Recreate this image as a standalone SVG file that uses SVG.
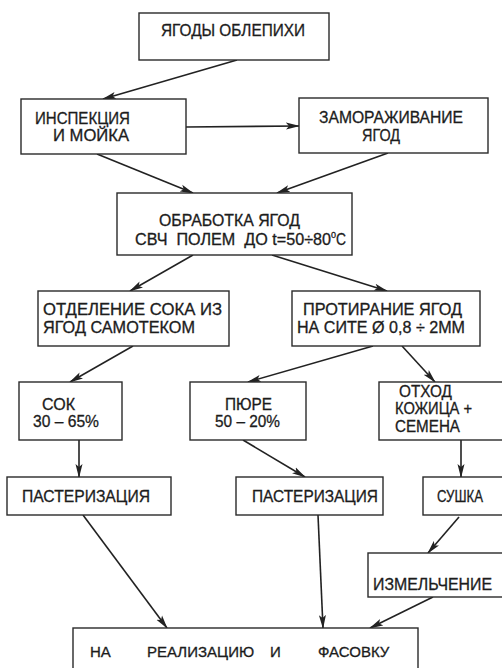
<svg xmlns="http://www.w3.org/2000/svg" width="502" height="668" viewBox="0 0 502 668">
<style>
.box{fill:#fff;stroke:#2a2a2a;stroke-width:1.4}
.t{font-family:"Liberation Sans",Arial,sans-serif;font-size:16px;fill:#1c1c1c;stroke:#1c1c1c;stroke-width:0.3}
.c{stroke:#222;stroke-width:1.6;fill:none;marker-end:url(#ah)}
</style>
<defs>
<marker id="ah" markerUnits="userSpaceOnUse" markerWidth="14" markerHeight="8" refX="13" refY="4" orient="auto">
<path d="M0,0.5 L14,4 L0,7.5 L3,4 z" fill="#222"/>
</marker>
</defs>
<rect width="502" height="668" fill="#fff"/>
<g id="connectors">
<line class="c" x1="237" y1="60" x2="103" y2="99"/>
<line class="c" x1="186" y1="127" x2="299" y2="126"/>
<line class="c" x1="97" y1="154" x2="193" y2="193"/>
<line class="c" x1="388" y1="153" x2="277" y2="193"/>
<line class="c" x1="193" y1="255" x2="130" y2="291"/>
<line class="c" x1="272" y1="255" x2="387" y2="291"/>
<line class="c" x1="133" y1="346" x2="70" y2="382"/>
<line class="c" x1="373" y1="346" x2="248" y2="382"/>
<line class="c" x1="402" y1="346" x2="435" y2="382"/>
<line class="c" x1="79" y1="440" x2="79" y2="477"/>
<line class="c" x1="243" y1="440" x2="305" y2="477"/>
<line class="c" x1="461" y1="440" x2="461" y2="477"/>
<line class="c" x1="83" y1="515" x2="167" y2="628"/>
<line class="c" x1="318" y1="515" x2="323" y2="628"/>
<line class="c" x1="459" y1="517" x2="428" y2="553"/>
<line class="c" x1="433" y1="597" x2="370" y2="628"/>
</g>
<g id="n1">
<rect class="box" x="139" y="13" width="190" height="47"/>
<text class="t" x="161" y="36" textLength="144" lengthAdjust="spacingAndGlyphs">ЯГОДЫ ОБЛЕПИХИ</text>
</g>
<g id="n2">
<rect class="box" x="21" y="99" width="165" height="55"/>
<text class="t" x="35" y="124" textLength="95" lengthAdjust="spacingAndGlyphs">ИНСПЕКЦИЯ</text>
<text class="t" x="53" y="141" textLength="76" lengthAdjust="spacingAndGlyphs">И  МОЙКА</text>
</g>
<g id="n3">
<rect class="box" x="299" y="98" width="189" height="55"/>
<text class="t" x="319" y="123" textLength="144" lengthAdjust="spacingAndGlyphs">ЗАМОРАЖИВАНИЕ</text>
<text class="t" x="362" y="141" textLength="38" lengthAdjust="spacingAndGlyphs">ЯГОД</text>
</g>
<g id="n4">
<rect class="box" x="117" y="193" width="235" height="62"/>
<text class="t" x="159" y="226" textLength="141" lengthAdjust="spacingAndGlyphs">ОБРАБОТКА ЯГОД</text>
<text class="t" x="135" y="245" xml:space="preserve" textLength="196" lengthAdjust="spacingAndGlyphs">СВЧ  ПОЛЕМ  ДО t=50÷80</text>
<text class="t" x="331" y="238" style="font-size:9px">0</text>
<text class="t" x="336" y="245" textLength="10" lengthAdjust="spacingAndGlyphs">C</text>
</g>
<g id="n5">
<rect class="box" x="38" y="291" width="191" height="55"/>
<text class="t" x="43" y="315" textLength="179" lengthAdjust="spacingAndGlyphs">ОТДЕЛЕНИЕ  СОКА  ИЗ</text>
<text class="t" x="43" y="333" textLength="152" lengthAdjust="spacingAndGlyphs">ЯГОД  САМОТЕКОМ</text>
</g>
<g id="n6">
<rect class="box" x="292" y="291" width="188" height="55"/>
<text class="t" x="303" y="315" textLength="159" lengthAdjust="spacingAndGlyphs">ПРОТИРАНИЕ  ЯГОД</text>
<text class="t" x="297" y="333" textLength="168" lengthAdjust="spacingAndGlyphs">НА СИТЕ  Ø 0,8 ÷ 2ММ</text>
</g>
<g id="n7">
<rect class="box" x="19" y="382" width="103" height="58"/>
<text class="t" x="42" y="410" textLength="33" lengthAdjust="spacingAndGlyphs">СОК</text>
<text class="t" x="33" y="427" textLength="66" lengthAdjust="spacingAndGlyphs">30 – 65%</text>
</g>
<g id="n8">
<rect class="box" x="190" y="382" width="116" height="58"/>
<text class="t" x="225" y="410" textLength="47" lengthAdjust="spacingAndGlyphs">ПЮРЕ</text>
<text class="t" x="215" y="427" textLength="65" lengthAdjust="spacingAndGlyphs">50 – 20%</text>
</g>
<g id="n9">
<rect class="box" x="379" y="382" width="140" height="58"/>
<text class="t" x="399" y="397" textLength="53" lengthAdjust="spacingAndGlyphs">ОТХОД</text>
<text class="t" x="395" y="414" textLength="77" lengthAdjust="spacingAndGlyphs">КОЖИЦА +</text>
<text class="t" x="395" y="432" textLength="65" lengthAdjust="spacingAndGlyphs">СЕМЕНА</text>
</g>
<g id="n10">
<rect class="box" x="7" y="477" width="164" height="38"/>
<text class="t" x="22" y="502" textLength="128" lengthAdjust="spacingAndGlyphs">ПАСТЕРИЗАЦИЯ</text>
</g>
<g id="n11">
<rect class="box" x="236" y="477" width="147" height="38"/>
<text class="t" x="252" y="502" textLength="126" lengthAdjust="spacingAndGlyphs">ПАСТЕРИЗАЦИЯ</text>
</g>
<g id="n12">
<rect class="box" x="423" y="477" width="100" height="38"/>
<text class="t" x="437" y="502" textLength="46" lengthAdjust="spacingAndGlyphs">СУШКА</text>
</g>
<g id="n13">
<rect class="box" x="368" y="553" width="150" height="44"/>
<text class="t" x="373" y="590" textLength="119" lengthAdjust="spacingAndGlyphs">ИЗМЕЛЬЧЕНИЕ</text>
</g>
<g id="n14">
<rect class="box" x="73" y="628" width="345" height="60"/>
<text class="t" x="90" y="657" style="font-size:15px">НА</text>
<text class="t" x="147" y="657" style="font-size:15px">РЕАЛИЗАЦИЮ</text>
<text class="t" x="270" y="657" style="font-size:15px">И</text>
<text class="t" x="318" y="657" style="font-size:15px">ФАСОВКУ</text>
</g>
</svg>
